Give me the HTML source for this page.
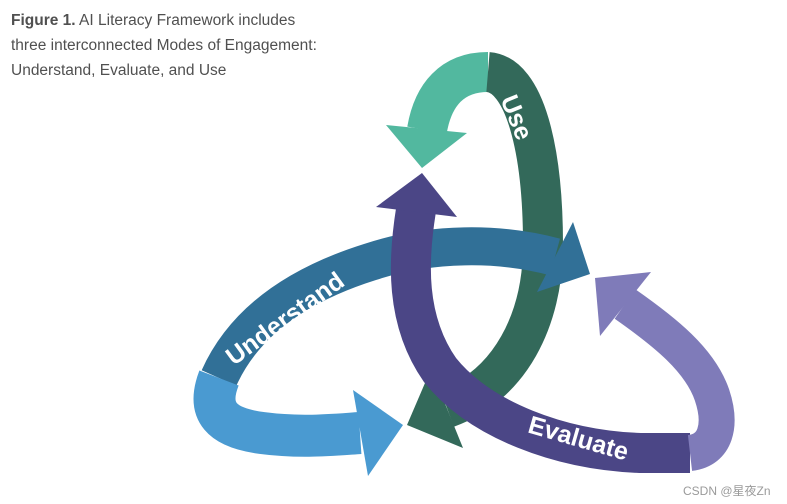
<!DOCTYPE html>
<html><head><meta charset="utf-8"><style>
html,body{margin:0;padding:0;background:#fff;width:787px;height:504px;overflow:hidden}
.cap{position:absolute;left:11px;top:8px;font-family:"Liberation Sans",sans-serif;font-size:15.5px;line-height:25px;color:#505050}
.wm{position:absolute;left:683px;top:482px;font-family:"Liberation Sans","Noto Sans CJK SC",sans-serif;font-size:12px;color:#9a9a9a}
svg{position:absolute;left:0;top:0}
</style></head><body>
<div class="cap"><b>Figure 1.</b> AI Literacy Framework includes<br>three interconnected Modes of Engagement:<br>Understand, Evaluate, and Use</div>
<svg width="787" height="504" viewBox="0 0 787 504">
<g fill="none" stroke-width="40" stroke-linecap="butt">
<path d="M427,130 C433,95 452,72 488,72" stroke="#52b89f"/>
<path d="M488,72 C525,75 543,150 543,245 C543,320 510,385 447,408" stroke="#33695a"/>
</g>
<polygon points="422,168 386,125 467,133" fill="#52b89f"/>
<polygon points="407,425 431,369 463,448" fill="#33695a"/>
<g fill="none" stroke-linecap="butt">
<path d="M555,257 C500,242 430,242 370,262 C300,284 245,320 219,378" stroke="#317097" stroke-width="38"/>
<path d="M219,378 C206,412 222,428 262,433 C300,438 330,435 360,433" stroke="#4a9ad1" stroke-width="42"/>
</g>
<polygon points="590,274 573,222 537,292" fill="#317097"/>
<polygon points="403,425 353,390 368,476" fill="#4a9ad1"/>
<g fill="none" stroke-linecap="butt">
<path d="M416,210 C408,260 405,320 440,370 C480,420 560,450 640,453 L690,453" stroke="#4b4686" stroke-width="40"/>
<path d="M690,453 C716,450 722,425 712,395 C700,360 665,332 625,304" stroke="#7f7bb9" stroke-width="36"/>
</g>
<polygon points="422,173 376,207 457,217" fill="#4b4686"/>
<polygon points="595,278 651,272 600,336" fill="#7f7bb9"/>
<g font-family="Liberation Sans,sans-serif" font-size="25" font-weight="bold" fill="#fff" text-anchor="middle">
<text transform="translate(515,118) rotate(68)" dominant-baseline="middle">Use</text>
<text transform="translate(286,320) rotate(-36)" dominant-baseline="middle">Understand</text>
<text transform="translate(578,440) rotate(16)" dominant-baseline="middle">Evaluate</text>
</g>
</svg>
<div class="wm">CSDN @星夜Zn</div>
</body></html>
